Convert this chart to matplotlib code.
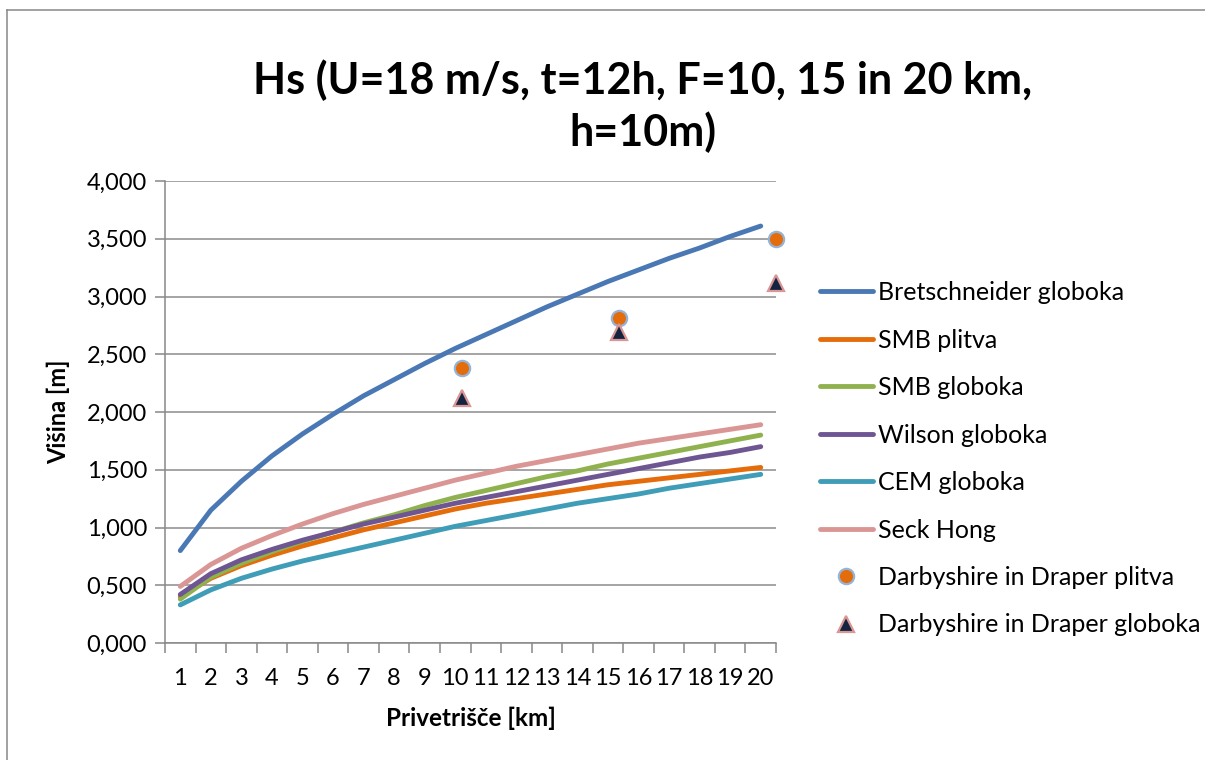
import numpy as np
import matplotlib
matplotlib.use('Agg')
import matplotlib.pyplot as plt
from matplotlib.lines import Line2D
from matplotlib.ticker import FuncFormatter

plt.rcParams['font.family'] = ['Lato', 'DejaVu Sans']

# privetrisce [km]
fetch = np.arange(1, 21)

bretschneider = [0.80, 1.15, 1.40, 1.62, 1.81, 1.98, 2.14, 2.28, 2.42, 2.55,
                 2.67, 2.79, 2.91, 3.02, 3.13, 3.23, 3.33, 3.42, 3.52, 3.61]
smb_plitva = [0.40, 0.56, 0.67, 0.76, 0.84, 0.91, 0.98, 1.04, 1.10, 1.16,
              1.21, 1.25, 1.29, 1.33, 1.37, 1.40, 1.43, 1.46, 1.49, 1.52]
smb_globoka = [0.38, 0.57, 0.69, 0.79, 0.88, 0.96, 1.04, 1.11, 1.19, 1.26,
               1.32, 1.38, 1.44, 1.49, 1.55, 1.60, 1.65, 1.70, 1.75, 1.80]
wilson = [0.42, 0.60, 0.72, 0.81, 0.89, 0.96, 1.03, 1.09, 1.15, 1.21,
          1.26, 1.31, 1.36, 1.41, 1.46, 1.51, 1.56, 1.61, 1.65, 1.70]
cem = [0.33, 0.46, 0.56, 0.64, 0.71, 0.77, 0.83, 0.89, 0.95, 1.01,
       1.06, 1.11, 1.16, 1.21, 1.25, 1.29, 1.34, 1.38, 1.42, 1.46]
seck_hong = [0.49, 0.68, 0.82, 0.93, 1.03, 1.12, 1.20, 1.27, 1.34, 1.41,
             1.47, 1.53, 1.58, 1.63, 1.68, 1.73, 1.77, 1.81, 1.85, 1.89]

# Darbyshire in Draper (F = 10, 15, 20 km)
dd_fetch = [10, 15, 20]
dd_plitva = [2.38, 2.81, 3.50]
dd_globoka = [2.12, 2.69, 3.12]

lines = [
    ('Bretschneider globoka', bretschneider, '#4A78B4'),
    ('SMB plitva', smb_plitva, '#E46C0A'),
    ('SMB globoka', smb_globoka, '#8FB24E'),
    ('Wilson globoka', wilson, '#6E5692'),
    ('CEM globoka', cem, '#409DB8'),
    ('Seck Hong', seck_hong, '#DA9694'),
]

W, H = 1205, 760
fig = plt.figure(figsize=(W / 100, H / 100), dpi=100)
ax = fig.add_axes([165 / W, 1 - 643 / H, 611 / W, 462 / H])

for name, vals, col in lines:
    ax.plot(fetch, vals, color=col, lw=3.5, solid_capstyle='round', label=name, zorder=3)

ax.set_xlim(0.5, 20.5)
ax.set_ylim(0, 4.0)
ax.set_yticks(np.arange(0, 4.01, 0.5))
ax.yaxis.set_major_formatter(FuncFormatter(lambda v, p: ('%.3f' % v).replace('.', ',')))
ax.set_xticks(fetch)
ax.set_xticks(np.arange(0.5, 20.6, 1), minor=True)
ax.tick_params(axis='x', which='major', length=0, labelsize=17, pad=18)
ax.tick_params(axis='x', which='minor', length=7, width=1.1, color='#888888')
ax.tick_params(axis='y', length=7, width=1.1, color='#888888', labelsize=17, pad=6)

ax.grid(axis='y', color='#8C8C8C', lw=1.1)
ax.set_axisbelow(True)
for s in ['top', 'right']:
    ax.spines[s].set_visible(False)
for s in ['left', 'bottom']:
    ax.spines[s].set_color('#888888')
    ax.spines[s].set_linewidth(1.1)

# the XY points sit on their own x scale (1 at the first category, 20 at the right edge)
ax2 = ax.twiny()
ax2.set_xlim(1 - 0.5 * 19 / 19.5, 20)
ax2.axis('off')
ax2.plot(dd_fetch, dd_plitva, 'o', ms=11, mfc='#E46C0A', mec='#95B3D7', mew=1.6,
         ls='none', clip_on=False, zorder=4)
ax2.plot(dd_fetch, dd_globoka, '^', ms=12, mfc='#14233F', mec='#D99694', mew=1.6,
         ls='none', clip_on=False, zorder=4)
ax2.set_ylim(0, 4.0)

ax.set_xlabel('Privetrišče [km]', fontsize=17.5, fontweight='bold', labelpad=13)
ax.set_ylabel('Višina [m]', fontsize=17, fontweight='bold')
ax.yaxis.set_label_coords(-95 / 611, 0.5)

fig.text(643 / W, 1 - 106 / H, 'Hs (U=18 m/s, t=12h, F=10, 15 in 20 km,\nh=10m)',
         ha='center', va='center', fontsize=31, fontweight='bold', linespacing=1.3)

handles = [Line2D([], [], color=c, lw=3.5, solid_capstyle='round') for _, _, c in lines]
handles.append(Line2D([], [], marker='o', ms=11, mfc='#E46C0A', mec='#95B3D7', mew=1.6, ls='none'))
handles.append(Line2D([], [], marker='^', ms=12, mfc='#14233F', mec='#D99694', mew=1.6, ls='none'))
labels = [n for n, _, _ in lines] + ['Darbyshire in Draper plitva', 'Darbyshire in Draper globoka']
fig.legend(handles, labels, loc='upper left', bbox_to_anchor=(810 / W, 1 - 271 / H),
           frameon=False, fontsize=18, handlelength=2.1, handletextpad=0.2,
           labelspacing=0.98, borderaxespad=0)

# chart area border (top and left edges)
fig.add_artist(Line2D([7 / W, 7 / W], [0, 1 - 10 / H], color='#888888', lw=1.1))
fig.add_artist(Line2D([7 / W, 1], [1 - 10 / H, 1 - 10 / H], color='#888888', lw=1.1))

fig.savefig('out.png', dpi=100)
